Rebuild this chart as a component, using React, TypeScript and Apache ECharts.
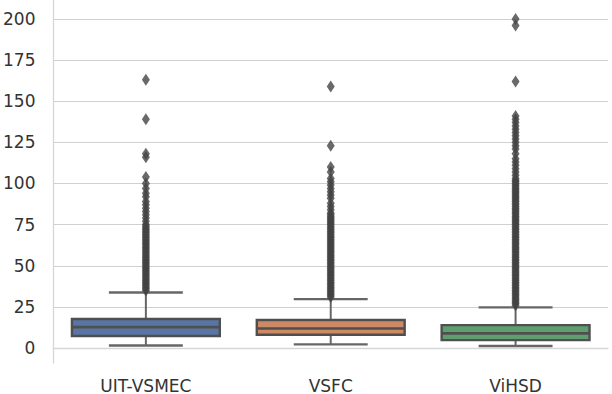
import React, { useEffect, useRef } from "react";
import * as echarts from "echarts";

const categories = ["UIT-VSMEC", "VSFC", "ViHSD"];
const yTicks = [0, 25, 50, 75, 100, 125, 150, 175, 200];

const lowerWhisker = [1.5, 2.2, 1.2];
const q1 = [7.3, 8.1, 4.8];
const median = [12.7, 11.9, 8.9];
const q3 = [17.6, 17.0, 13.9];
const upperWhisker = [33.7, 29.7, 24.7];
const boxColors = ["#5975a4", "#cc8963", "#5f9e6e"];

const outliersUIT = [
  35, 36, 37, 38, 39, 40, 41, 42, 43, 44, 45, 46, 47, 48, 49, 50, 51, 52, 53, 54, 55,
  56, 57, 58, 59, 60, 61, 62, 63, 64, 65, 66, 67, 68, 69, 70, 71, 72, 73, 74, 75,
  77, 79, 81, 83, 85, 87, 89, 92, 94, 97, 100, 104, 116, 118, 139, 163,
];
const outliersVSFC = [
  31, 32, 33, 34, 35, 36, 37, 38, 39, 40, 41, 42, 43, 44, 45, 46, 47, 48, 49, 50, 51,
  52, 53, 54, 55, 56, 57, 58, 59, 60, 61, 62, 63, 64, 65, 66, 67, 68, 69, 70, 71, 72,
  73, 74, 75, 76, 77, 78, 79, 80, 81, 82, 84, 86, 88, 91, 93, 95, 97, 99, 101, 103,
  107, 110, 123, 159,
];
const outliersViHSD = [
  26, 27, 28, 29, 30, 31, 32, 33, 34, 35, 36, 37, 38, 39, 40, 41, 42, 43, 44, 45, 46,
  47, 48, 49, 50, 51, 52, 53, 54, 55, 56, 57, 58, 59, 60, 61, 62, 63, 64, 65, 66, 67,
  68, 69, 70, 71, 72, 73, 74, 75, 76, 77, 78, 79, 80, 81, 82, 83, 84, 85, 86, 87, 88,
  89, 90, 91, 92, 93, 94, 95, 96, 97, 98, 99, 100, 101, 102, 103, 105, 107, 109, 111,
  113, 115, 118, 121, 123, 125, 127, 129, 131, 133, 135, 137, 139, 141, 162, 196, 200,
];
const outlierLists = [outliersUIT, outliersVSFC, outliersViHSD];

const FONT = "DejaVu Sans";

export default function App() {
  const ref = useRef<HTMLDivElement>(null);
  useEffect(() => {
    if (!ref.current) return;
    const chart = echarts.init(ref.current, null, { renderer: "svg" });
    const boxData = categories.map((_, i) => [
      i,
      lowerWhisker[i],
      q1[i],
      median[i],
      q3[i],
      upperWhisker[i],
    ]);
    const outlierData: number[][] = [];
    outlierLists.forEach((list, i) => list.forEach((v) => outlierData.push([i, v])));

    chart.setOption({
      animation: false,
      backgroundColor: "#ffffff",
      grid: { left: 50, right: 4, top: 0, bottom: 30, containLabel: false },
      xAxis: {
        type: "category",
        data: categories,
        boundaryGap: true,
        axisLine: { show: true, lineStyle: { color: "#d6d6d6", width: 1.3 } },
        axisTick: { show: false },
        splitLine: { show: false },
        axisLabel: {
          color: "#333333",
          fontSize: 17,
          fontFamily: FONT,
          margin: 14,
        },
      },
      yAxis: {
        type: "value",
        min: -9.1,
        max: 211.5,
        axisLine: { show: true, lineStyle: { color: "#d6d6d6", width: 1.3 } },
        axisTick: { show: false, customValues: yTicks },
        axisLabel: {
          customValues: yTicks,
          color: "#333333",
          fontSize: 17,
          fontFamily: FONT,
          margin: 18,
          formatter: (v: number) => String(Math.round(v)),
        },
        splitLine: { show: true, lineStyle: { color: "#d0d0d0", width: 1.2 } },
      },
      series: [
        {
          type: "custom",
          z: 2,
          data: boxData,
          encode: { x: 0, y: [1, 2, 3, 4, 5] },
          renderItem: (params: any, api: any) => {
            const idx = api.value(0);
            const bandW = api.size([1, 0])[0];
            const boxW = bandW * 0.8;
            const capW = boxW * 0.5;
            const [cx, yLw] = api.coord([idx, api.value(1)]);
            const yQ1 = api.coord([idx, api.value(2)])[1];
            const yMed = api.coord([idx, api.value(3)])[1];
            const yQ3 = api.coord([idx, api.value(4)])[1];
            const yUw = api.coord([idx, api.value(5)])[1];
            const edge = "#4f4f4f";
            const whisk = "#666666";
            return {
              type: "group",
              children: [
                {
                  type: "line",
                  shape: { x1: cx, y1: yQ3, x2: cx, y2: yUw },
                  style: { stroke: whisk, lineWidth: 2 },
                },
                {
                  type: "line",
                  shape: { x1: cx, y1: yQ1, x2: cx, y2: yLw },
                  style: { stroke: whisk, lineWidth: 2 },
                },
                {
                  type: "line",
                  shape: { x1: cx - capW / 2, y1: yUw, x2: cx + capW / 2, y2: yUw },
                  style: { stroke: whisk, lineWidth: 2.4 },
                },
                {
                  type: "line",
                  shape: { x1: cx - capW / 2, y1: yLw, x2: cx + capW / 2, y2: yLw },
                  style: { stroke: whisk, lineWidth: 2.4 },
                },
                {
                  type: "rect",
                  shape: { x: cx - boxW / 2, y: yQ3, width: boxW, height: yQ1 - yQ3 },
                  style: {
                    fill: boxColors[params.dataIndex],
                    stroke: edge,
                    lineWidth: 2.4,
                  },
                },
                {
                  type: "line",
                  shape: { x1: cx - boxW / 2, y1: yMed, x2: cx + boxW / 2, y2: yMed },
                  style: { stroke: edge, lineWidth: 2.6 },
                },
              ],
            };
          },
        },
        {
          type: "scatter",
          z: 3,
          data: outlierData,
          symbol: "diamond",
          symbolSize: [8, 12],
          itemStyle: { color: "#444444" },
          silent: true,
        },
      ],
    });
    return () => chart.dispose();
  }, []);
  return (
    <div
      ref={ref}
      style={{ position: "fixed", left: 0, top: 0, width: 612, height: 394 }}
    />
  );
}
